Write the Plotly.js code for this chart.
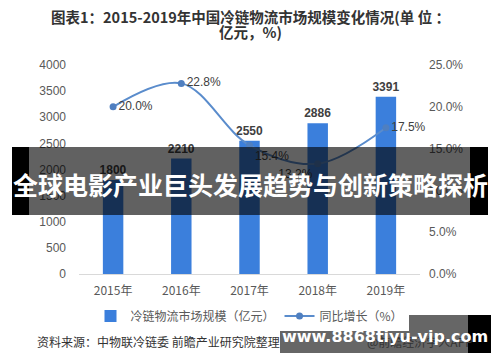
<!DOCTYPE html>
<html><head><meta charset="utf-8">
<script src="https://cdn.plot.ly/plotly-3.0.1.min.js"></script>
<style>html,body{margin:0;padding:0;background:#fff}#c{width:500px;height:362px}</style>
</head><body><div id="c"></div>
<script>
const years = ['2015年','2016年','2017年','2018年','2019年'];
const marketSize = [1800, 2210, 2550, 2886, 3391];
const growth = [0.200, 0.228, 0.154, 0.132, 0.175];
const growthLabels = ['20.0%','22.8%','15.4%','13.2%','17.5%'];
const growthLabelPos = ['middle right','middle right','bottom right','bottom left','middle right'];
const barName = '冷链物流市场规模（亿元）';
const lineName = '同比增长（%）';
const titleLine1 = '图表1：2015-2019年中国冷链物流市场规模变化情况(单 位 ：';
const titleLine2 = '亿元，%)';
const sourceText = '资料来源：中物联冷链委 前瞻产业研究院整理';
const appText = '@前瞻经济学人APP';
const bannerText = '全球电影产业巨头发展趋势与创新策略探析';
const watermarkText = 'www.8868tiyu-vip.com';

const W = 500, H = 362, L = 79, R = 80, T = 65, B = 88;
const pw = W - L - R, ph = H - T - B;
const px = x => (x - L) / pw;
const py = y => (H - B - y) / ph;
const CJK = '"Noto Sans CJK SC", "Noto Sans", sans-serif';
const rect = (x0, x1, y0, y1, c) => ({type:'rect', xref:'paper', yref:'paper', layer:'above',
  x0:px(x0), x1:px(x1), y0:py(y1), y1:py(y0), fillcolor:c, line:{width:0}});
const note = (text, x, y, xa, font) => ({text, xref:'paper', yref:'paper', x:px(x), y:py(y),
  xanchor:xa, yanchor:'middle', showarrow:false, font});

const data = [
  {type:'bar', x:years, y:marketSize, name:barName, marker:{color:'#3b7fdc'}, width:0.3,
   text:marketSize.map(String), textposition:'outside', cliponaxis:false, constraintext:'none',
   textfont:{family:'Liberation Sans, Arial', size:12, color:'#404040', weight:'bold'}},
  {type:'scatter', mode:'lines+markers+text', x:years, y:growth, yaxis:'y2', name:lineName,
   line:{color:'#5a8ccc', width:2, shape:'spline', smoothing:1}, marker:{color:'#4f7fc0', size:7},
   text:growthLabels, textposition:growthLabelPos, cliponaxis:false,
   textfont:{family:'Liberation Sans, Arial', size:12, color:'#404040'}}
];

const layout = {
  width:W, height:H, margin:{l:L, r:R, t:T, b:B}, paper_bgcolor:'#fff', plot_bgcolor:'#fff',
  showlegend:true, bargap:0.7,
  font:{family:CJK, color:'#595959'},
  xaxis:{showgrid:false, showline:true, linecolor:'#d9d9d9', linewidth:1, ticks:'',
    ticklabelstandoff:6, tickfont:{family:CJK, size:12, color:'#595959'}},
  yaxis:{range:[0,4000], dtick:500, showgrid:false, zeroline:false, showline:false,
    ticklabelstandoff:12, tickfont:{family:'Liberation Sans, Arial', size:12, color:'#595959'}},
  yaxis2:{range:[0,0.25], dtick:0.05, tickformat:'.1%', overlaying:'y', side:'right',
    showgrid:false, zeroline:false, showline:false, ticklabelstandoff:8,
    tickfont:{family:'Liberation Sans, Arial', size:12, color:'#595959'}},
  legend:{orientation:'h', x:0.5, xanchor:'center', y:py(316), yanchor:'middle',
    font:{family:CJK, size:12, color:'#595959'}, itemwidth:30},
  shapes:[
    rect(12, 29, 147, 215, '#000'),
    rect(29, 470, 147, 215, 'rgba(0,0,0,0.62)'),
    rect(470, 488, 147, 215, '#000'),
    rect(280, 468, 315, 353, 'rgba(0,0,0,0.6)'),
    rect(468, 491, 315, 353, '#000')
  ],
  annotations:[
    note(titleLine1, 250, 17, 'center', {family:CJK, size:14.5, color:'#333', weight:'bold'}),
    note(titleLine2, 250, 32, 'center', {family:CJK, size:14.5, color:'#333', weight:'bold'}),
    note(sourceText, 35, 341, 'left', {family:CJK, size:12, color:'#333'}),
    note(appText, 365, 341, 'left', {family:CJK, size:12, color:'#333'}),
    note(bannerText, 250, 184, 'center', {family:CJK, size:25, color:'#fff', weight:'bold'}),
    note(watermarkText, 385, 336, 'center', {family:'DejaVu Sans, sans-serif', size:16, color:'#fff', weight:'bold'})
  ]
};
Plotly.newPlot('c', data, layout, {displayModeBar:false, staticPlot:true});
</script></body></html>
